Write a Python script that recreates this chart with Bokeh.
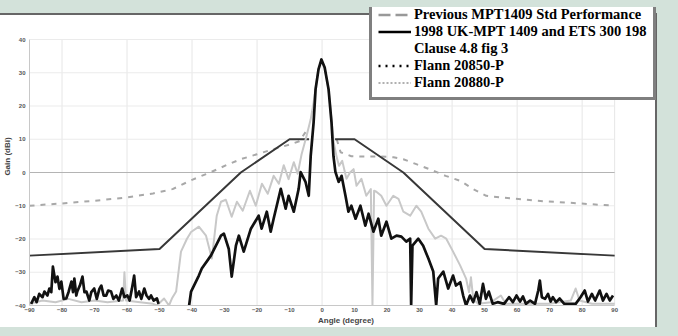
from bokeh.plotting import figure
from bokeh.models import Legend, LegendItem, FixedTicker, Range1d
from bokeh.embed import file_html
from bokeh.resources import INLINE

NaN = float("nan")

# ---------------- data ----------------
x_ticks = [-90, -80, -70, -60, -50, -40, -30, -20, -10, 0, 10, 20, 30, 40, 50, 60, 70, 80, 90]
x_grid = [-80, -60, -40, -20, 0, 20, 40, 60, 80, 90]
y_ticks = [-40, -30, -20, -10, 0, 10, 20, 30, 40]

# 1998 UK-MPT 1409 / ETS 300 198 envelope
env_deg = [-90, -50, -25, -10, -4, NaN, 4, 10, 25, 50, 90]
env_db = [-25, -23, 0, 10, 10, NaN, 10, 10, 0, -23, -25]

# Previous MPT1409 std performance
prev_deg = [-90, -80, -70, -60, -52, -46, -40, -34, -29, -25, -20, -15, -10, -7, -4.5, NaN,
            4.5, 5.7, 9, 13, 18, 22, 25, 29, 33, 38, 42.5, 46.5, 50.5, 56, 66, 76, 90]
prev_db = [-10, -9.3, -8.5, -7.5, -6.3, -5, -2.2, 0.2, 2.4, 4, 5.5, 7, 8.4, 9.4, 13, NaN,
           10, 6.1, 4.9, 4.8, 4.8, 4.6, 4, 2.5, 1, -1, -2.5, -5, -7, -7.6, -8.5, -9.1, -10]

# Flann 20850-P (black)
f50_deg = [-89.5, -88.5, -87.8, -87.0, -86.0, -85.4, -84.5, -83.9, -83.3, -82.8, -82.0, -81.4,
           -80.8, -80.2, -79.5, -78.7, -78.0, -77.1, -76.6, -76.2, -75.6, -75.3, -74.5, -73.7,
           -73.1, -72.5, -71.6, -71.0, -70.1, -69.3, -68.5, -67.9, -67.2, -66.4, -65.8, -64.9,
           -64.2, -63.3, -62.5, -61.5, -60.8, -59.9, -59.2, -58.5, -57.8, -57.2, -56.3, -55.6,
           -54.7, -54.0, -53.2, -52.6, -51.8, -50.8, -50.3, NaN,
           -40.9, -40.3, -37.9, -37.0, -34.2, -31.1, -30.2, -28.7, -27.8, -26.5, -25.6, -24.1,
           -21.9, -19.5, -18.6, -17.0, -15.8, -14.9, -12.7, -11.2, -10.3, -8.7, -7.2, -6.6,
           -5.1, -4.1, -3.5, -2.6, -2.0, -1.1, -0.2, 0.8, 2.0, 2.9, 3.5, 4.1, 5.1, 6.0, 7.2,
           8.1, 9.0, 10.3, 11.8, 13.3, 14.3, 15.8, 17.3, 18.2, 19.8, 21.3, 22.9, 24.4, 25.9,
           27.1, 27.4, 27.8, 29.6, 31.1, 32.7, 34.2, 35.1, 35.7, 37.3, 38.8, 40.3, 41.2, 42.5,
           43.4, 44.3, 45.5, 46.5, 47.5, 48.5, 49.5, 50.4, 51.3, 52.5, 54.0, 56.0, 57.5, 58.7,
           59.8, 60.9, 61.8, 62.7, 64.0, 65.5, 66.5, 67.0, 67.6, 68.6, 69.5, 70.3, 71.0, 72.0,
           73.1, 74.5, 76.0, 78.0, 79.5, 80.8, 81.8, 83.0, 84.0, 85.4, 86.4, 87.5, 88.5, 89.5]
f50_db = [-39.5, -37.5, -39.0, -36.5, -37.5, -35.8, -37.0, -34.9, -36.0, -28.3, -33.0, -31.3,
          -35.0, -32.8, -38.0, -37.9, -36.0, -32.8, -36.0, -31.9, -37.0, -35.8, -34.0, -31.3,
          -36.0, -35.8, -38.5, -36.0, -34.9, -38.0, -35.0, -34.0, -37.0, -37.0, -35.5, -35.8,
          -38.0, -37.0, -38.5, -34.9, -37.5, -37.0, -38.5, -35.0, -31.0, -37.5, -35.8, -38.0,
          -34.9, -37.0, -38.0, -37.0, -38.5, -37.9, -39.5, NaN,
          -40.0, -35.8, -31.0, -28.9, -25.0, -19.0, -18.4, -23.0, -31.3, -22.0, -19.0, -23.8,
          -16.9, -13.0, -16.9, -11.8, -17.8, -13.9, -4.9, -10.9, -7.0, -11.8, -4.9, 0.1,
          -2.8, -7.0, 4.9, 15.1, 25.0, 31.0, 34.0, 31.6, 25.0, 15.1, 4.9, 0.2, -2.8, -1.0, -7.0,
          -11.8, -10.0, -13.9, -10.0, -16.0, -12.4, -17.8, -13.9, -19.0, -14.8, -19.9, -19.0, -19.3, -20.8,
          -19.9, -40.0, -22.0, -19.9, -22.0, -25.9, -29.8, -40.0, -31.9, -29.8, -34.9, -31.0, -34.0, -33.0,
          -37.0, -40.0, -37.0, -39.0, -36.0, -39.5, -33.5, -38.0, -35.8, -39.5, -39.0, -39.5, -37.5, -39.0,
          -37.0, -38.8, -37.3, -39.5, -38.5, -39.5, -35.5, -32.5, -37.5, -38.0, -36.5, -38.8, -37.5, -39.0,
          -37.9, -39.5, -39.5, -39.5, -37.5, -35.5, -38.8, -36.5, -38.5, -35.5, -38.5, -36.5, -38.5, -37.0]

# Flann 20880-P (grey)
f80_deg = [-90.0, -86.0, -82.0, -78.0, -74.0, -70.0, -66.0, -61.2, -60.8, -60.3, -56.0, -52.0,
           -50.8, -48.6, -47.1, -46.2, -44.9, -43.4, -41.6, -40.3, -37.9, -35.7, -33.9, -32.4,
           -31.1, -29.6, -27.8, -26.2, -24.4, -22.2, -20.4, -18.5, -16.7, -14.9, -13.3, -11.8,
           -10.3, -8.7, -7.5, -6.3, -4.8, -3.5, -2.6, -2.0, -1.1, -0.2, 0.8, 2.0, 2.9, 3.6, 4.4,
           5.2, 6.2, 7.5, 8.6, 9.7, 10.6, 12.1, 13.6, 15.0, 15.5, 16.0, 16.7, 18.2, 19.8, 21.9,
           23.5, 25.0, 27.1, 29.0, 30.5, 32.7, 34.8, 36.6, 38.2, 40.3, 42.5, 44.3, 45.2, 45.8,
           46.5, 48.0, 52.0, 55.0, 56.5, 62.0, 70.0, 76.5, 78.0, 79.2, 83.0, 90.0]
f80_db = [-39.5, -38.5, -39.0, -38.0, -39.0, -38.5, -39.0, -38.5, -30.0, -38.5, -39.0, -39.5,
          -40.0, -37.9, -40.0, -37.9, -35.8, -23.8, -20.0, -17.9, -16.3, -19.0, -25.9, -13.0,
          -8.8, -8.2, -13.3, -8.8, -11.5, -5.5, -10.0, -3.4, -6.4, -1.0, -3.4, 2.2,
          -2.0, 3.1, -0.4, 5.5, 10.9, 16.0, 21.1, 25.5, 31.0, 33.5, 31.5, 25.0, 16.0, 9.0, 5.0,
          2.0, 3.5, -1.9, 0.0, 1.0, -4.0, -1.9, -7.0, -5.0, -40.0, -5.5, -5.8, -7.0, -10.0, -7.0,
          -7.9, -11.8, -13.0, -10.0, -11.8, -16.9, -19.9, -19.0, -19.9, -23.8, -28.0, -31.9, -36.0, -31.5,
          -38.0, -39.5, -39.0, -37.0, -39.5, -39.5, -39.5, -38.5, -34.9, -38.5, -39.5, -39.5]

legend_labels = ["Previous MPT1409 Std Performance", "1998 UK-MPT 1409 and ETS 300 198",
                 "Clause 4.8 fig 3", "Flann 20850-P", "Flann 20880-P"]

# ---------------- layout constants ----------------
BG = "#d3e2da"
EDGE = "#666666"
W, H = 662, 320
B_LEFT, B_BOTTOM = 27, 22
TOP_TICK_PX = 32                                   # canvas row of the 40 dB line
PX_PER_DEG = 587 / 180.0                           # 180 degrees over 587 px
PX_PER_DB = (H - B_BOTTOM - TOP_TICK_PX) / 80.0    # 80 dB between frame bottom and 40 dB line
x_hi = x_ticks[0] + (W - B_LEFT) / PX_PER_DEG      # frame runs to the canvas' right edge
y_hi = y_ticks[0] + (H - B_BOTTOM) / PX_PER_DB     # frame runs to the canvas' top edge

p = figure(width=W, height=H, output_backend="svg", toolbar_location=None,
           x_range=Range1d(x_ticks[0], x_hi), y_range=Range1d(y_ticks[0], y_hi),
           min_border_left=B_LEFT, min_border_right=0, min_border_top=0,
           min_border_bottom=B_BOTTOM, margin=(7, 0, 0, 0))
# white panel with a dark edge; light green band above and at the right
p.styles = {
    "vertical-align": "top",
    "background-color": "white",
    "box-shadow": ("inset 0 6px 0 0 %s, inset -5px 0 0 0 %s, "
                   "inset 0 8px 0 0 %s, inset -7px 0 0 0 %s, -2px 0 0 0 %s") % (BG, BG, EDGE, EDGE, EDGE),
}
p.border_fill_alpha = 0
p.background_fill_alpha = 0
p.outline_line_color = None
p.xgrid.visible = False
p.ygrid.visible = False

for ax in (p.xaxis[0], p.yaxis[0]):
    ax.major_tick_line_color = None
    ax.minor_tick_line_color = None
    ax.major_tick_out = 0
    ax.major_tick_in = 0
    ax.axis_line_color = "#c8c8c8"
    ax.major_label_text_font = "Liberation Sans"
    ax.major_label_text_font_style = "bold"
    ax.major_label_text_font_size = "6px"
    ax.major_label_text_color = "#555555"
    ax.axis_label_text_font = "Liberation Sans"
    ax.axis_label_text_font_style = "bold"
    ax.axis_label_text_font_size = "8px"
    ax.axis_label_text_color = "#444444"

p.xaxis.ticker = FixedTicker(ticks=x_ticks)
p.yaxis.ticker = FixedTicker(ticks=y_ticks)
p.xaxis.bounds = (x_ticks[0], x_ticks[-1])
p.yaxis.bounds = (y_ticks[0], y_ticks[-1])
p.xaxis.axis_label = "Angle (degree)"
p.yaxis.axis_label = "Gain (dBi)"
p.xaxis.major_label_standoff = 2
p.xaxis.axis_label_standoff = 1
p.yaxis.major_label_standoff = 4
p.yaxis.axis_label_standoff = 0

# grid lines limited to the data area
p.segment(x0=x_grid, y0=[y_ticks[0]] * len(x_grid), x1=x_grid, y1=[y_ticks[-1]] * len(x_grid),
          line_color="#e6e6e6", line_width=1)
p.segment(x0=[x_ticks[0]] * len(y_ticks), y0=y_ticks, x1=[x_ticks[-1]] * len(y_ticks), y1=y_ticks,
          line_color="#ebebeb", line_width=1)
p.segment(x0=[x_ticks[0]], y0=[0], x1=[x_ticks[-1]], y1=[0], line_color="#b4b4b4", line_width=1)

# ---------------- series ----------------
p.line(prev_deg, prev_db, line_color="#a8a8a8", line_width=2, line_dash="5 6")
p.line(env_deg, env_db, line_color="#383838", line_width=2)
p.line(f80_deg, f80_db, line_color="#c8c8c8", line_width=2, line_join="round")
p.line(f50_deg, f50_db, line_color="#111111", line_width=2.7, line_join="round")

# legend-only glyph renderers (a single NaN point: nothing is drawn in the plot)
lg1 = p.line([NaN], [NaN], line_color="#999999", line_width=2.5, line_dash="12 5")
lg2 = p.line([NaN], [NaN], line_color="#000000", line_width=2.5)
lg3 = p.line([NaN], [NaN], line_alpha=0)
lg4 = p.line([NaN], [NaN], line_color="#000000", line_width=2.5, line_dash="2 5")
lg5 = p.line([NaN], [NaN], line_color="#b0b0b0", line_width=2, line_dash="2 2")

legend = Legend(items=[LegendItem(label=t, renderers=[r]) for t, r in
                       zip(legend_labels, [lg1, lg2, lg3, lg4, lg5])],
                location=(340, 205))
legend.border_line_color = "black"
legend.border_line_width = 3
legend.background_fill_color = "white"
legend.background_fill_alpha = 1
legend.padding = 6
legend.spacing = 0
legend.margin = 0
legend.glyph_width = 33
legend.glyph_height = 17
legend.label_height = 17
legend.label_standoff = 3
legend.label_text_font = "Liberation Serif"
legend.label_text_font_style = "bold"
legend.label_text_font_size = "14.5px"
legend.label_text_color = "black"
p.add_layout(legend)

html = file_html(p, INLINE, title="Antenna pattern")
html = html.replace("</head>", "<style>html,body{background:%s;}</style></head>" % BG, 1)
open("out.html", "w").write(html)
